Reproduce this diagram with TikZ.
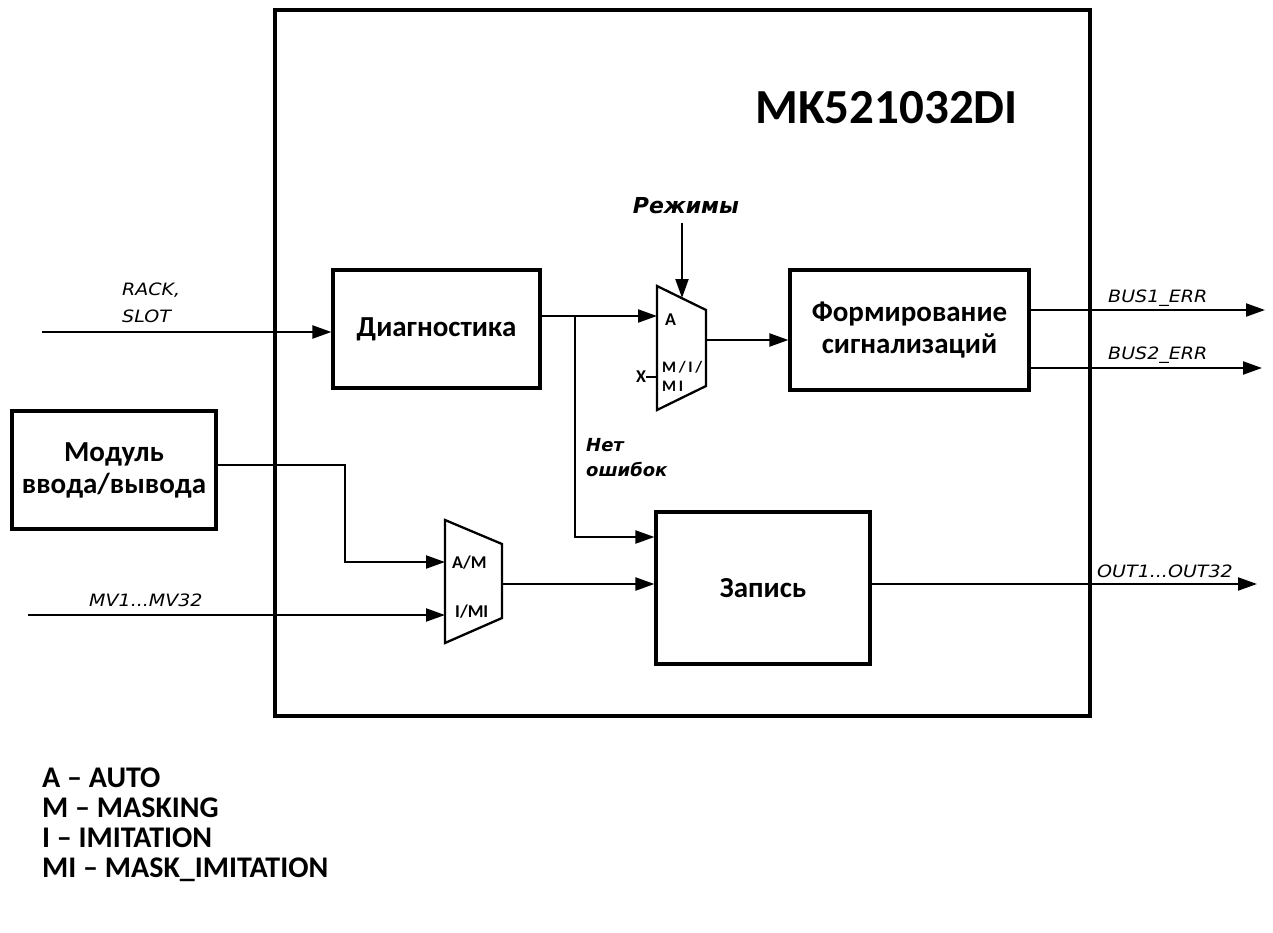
\documentclass[tikz,border=0pt]{standalone}
\usepackage{fontspec}
\setmainfont{Carlito}
\newfontfamily\sigfont{DejaVu Sans}[FakeStretch=1.12]
\newfontfamily\notefont{DejaVu Sans}
\usetikzlibrary{arrows.meta}
\begin{document}
\begin{tikzpicture}[x=1pt,y=-1pt,
 blk/.style={draw, line width=3.2pt, font=\bfseries\fontsize{29}{32}\selectfont, align=center, inner sep=0pt},
 wire/.style={line width=2.2pt},
 arr/.style={wire,-{Triangle[length=19pt,width=13pt]}},
 sig/.style={font=\sigfont\itshape\fontsize{17}{20}\selectfont, inner sep=0pt, anchor=base west},
 note/.style={font=\notefont\bfseries\itshape\fontsize{18}{23}\selectfont, inner sep=0pt, anchor=base west},
 muxl/.style={font=\bfseries\fontsize{18}{19}\selectfont, inner sep=0pt, anchor=base west},
 mux/.style={draw, line width=2.3pt, fill=white, line join=miter},
 leg/.style={font=\bfseries\fontsize{30}{30}\selectfont, inner sep=0pt, anchor=base west}]
\useasboundingbox (0,0) rectangle (1273,933);
% outer chip
\node[draw, line width=3.2pt, minimum width=815pt, minimum height=706pt, inner sep=0pt] (chip) at (682.5,363) {};
\node[anchor=base west, font=\bfseries\fontsize{49}{50}\selectfont, inner sep=0pt] (title) at (755,124) {MK521032DI};
% blocks
\node[blk, minimum width=207pt, minimum height=118pt] (diag) at (436.5,329) {Диагностика};
\node[blk, minimum width=239pt, minimum height=120pt] (form) at (909.5,330) {Формирование\\сигнализаций};
\node[blk, minimum width=204pt, minimum height=118pt] (modul) at (114,470) {Модуль\\ввода/вывода};
\node[blk, minimum width=214pt, minimum height=152pt] (zapis) at (763,588) {Запись};
% mux 1
\draw[mux] (657,286) -- (706,310) -- (706,386) -- (657,410) -- cycle;
\coordinate (m1a) at (657,316);
\coordinate (m1x) at (657,377);
\coordinate (m1o) at (706,340);
\coordinate (m1s) at (682,298);
\node[muxl] (m1la) at (665,325) {A};
\node[muxl, font=\bfseries\fontsize{16}{16}\selectfont] (m1lb) at (662,372) {M\,/\,I\,/};
\node[muxl, font=\bfseries\fontsize{16}{16}\selectfont] (m1lc) at (662,391) {M\,I};
% mux 2
\draw[mux] (445,520) -- (502,544) -- (502,618) -- (445,643) -- cycle;
\coordinate (m2a) at (445,562);
\coordinate (m2b) at (445,615);
\coordinate (m2o) at (502,584);
\node[muxl] (m2la) at (452,568) {A/M};
\node[muxl] (m2lb) at (455,617) {I/MI};
% inputs / outputs
\coordinate (rackin) at (42,332);
\coordinate (mvin) at (28,615);
\coordinate (rezh) at (682,223);
\coordinate (br) at (575,316);
\coordinate (modc) at (345,465);
\coordinate (bus1) at (1265,310);
\coordinate (bus2) at (1262,368);
\coordinate (outc) at (1257,584);
\draw[arr] (rackin) -- (rackin -| diag.west);
\draw[arr] (diag.east |- m1a) -- (m1a);
\draw[arr] (br) |- (zapis.west |- 0,537);
\draw[arr] (m1o) -- (form.west |- m1o);
\draw[arr] (rezh) -- (m1s);
\node[font=\bfseries\fontsize{18}{18}\selectfont, inner sep=0pt] (xl) at (641,377) {X};
\draw[wire] (xl.east) -- (m1x);
\draw[arr] (form.east |- bus1) -- (bus1);
\draw[arr] (form.east |- bus2) -- (bus2);
\draw[arr] (modul.east |- modc) -| (345,562) -- (m2a);
\draw[arr] (mvin) -- (m2b);
\draw[arr] (m2o) -- (zapis.west |- m2o);
\draw[arr] (zapis.east |- outc) -- (outc);
% labels
\node[sig] (lrack) at (122,295) {RACK,};
\node[sig] (lslot) at (122,322) {SLOT};
\node[sig] (lmv) at (89,606) {MV1...MV32};
\node[sig] (lbus1) at (1108,302) {BUS1\_ERR};
\node[sig] (lbus2) at (1108,359) {BUS2\_ERR};
\node[sig] (lout) at (1097,577) {OUT1...OUT32};
\node[note, font=\notefont\bfseries\itshape\fontsize{22}{24}\selectfont, anchor=base] (lrezh) at (686,214) {Режимы};
\node[note] (lnet1) at (586,451) {Нет};
\node[note] (lnet2) at (586,476) {ошибок};
% legend
\node[leg] (lg1) at (42,787) {A – AUTO};
\node[leg] (lg2) at (42,817) {M – MASKING};
\node[leg] (lg3) at (42,847) {I – IMITATION};
\node[leg] (lg4) at (42,877) {MI – MASK\_IMITATION};
\end{tikzpicture}
\end{document}
